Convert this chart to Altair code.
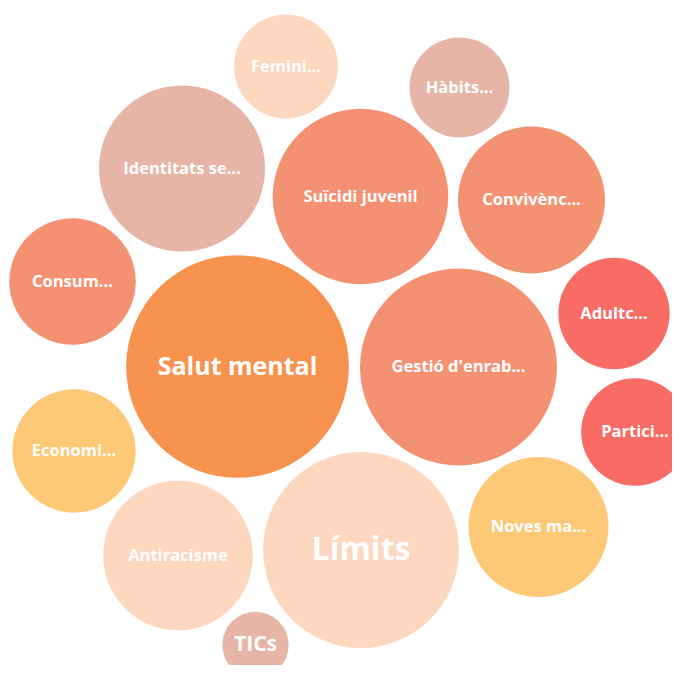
import altair as alt
import pandas as pd

# Bubble labels (as shown, truncated like the original)
labels = ["Salut mental", "Límits", "Gestió d'enrab...", "Suïcidi juvenil",
          "Identitats se...", "Antiracisme", "Convivènc...", "Noves ma...",
          "Consum...", "Economi...", "Adultc...", "Partici...", "Femini...",
          "Hàbits...", "TICs"]
# Relative weight of each topic (bubble area)
values = [124, 96, 97, 77, 69, 56, 54, 49, 40, 38, 31, 29, 27, 25, 11]
# Colour group of each topic
groups = ["G1", "G3", "G2", "G2", "G4", "G3", "G2", "G6",
          "G2", "G6", "G5", "G5", "G3", "G4", "G4"]
# Packed-layout coordinates of each bubble
layout_x = [237.5, 361, 458.5, 360.5, 182, 178, 531.5, 538.5,
            72.5, 74, 614, 635, 286, 459.5, 255.5]
layout_y = [366.5, 550, 367, 196.5, 168.5, 555.5, 200, 527,
            281.5, 451, 313.5, 432, 66.5, 87.5, 645]

group_names = ["G1", "G2", "G3", "G4", "G5", "G6"]
group_colors = ["#F7924F", "#F59173", "#FDD7BE", "#E7B5A5", "#F96C65", "#FEC977"]

label_font = {"Salut mental": 25, "Límits": 32, "TICs": 21}

df = pd.DataFrame({
    "label": labels,
    "value": values,
    "group": groups,
    "x": layout_x,
    "y": layout_y,
})
df["fs"] = [label_font.get(l, 16.5) for l in labels]

W, H = 664, 657
xs = alt.Scale(domain=[8, 8 + W], range=[0, W], nice=False, zero=False)
ys = alt.Scale(domain=[8, 8 + H], range=[0, H], nice=False, zero=False)

base = alt.Chart(df)

bubbles = base.mark_circle(opacity=1).encode(
    x=alt.X("x:Q", scale=xs, axis=None),
    y=alt.Y("y:Q", scale=ys, axis=None),
    size=alt.Size("value:Q", scale=alt.Scale(domain=[0, 124], range=[0, 49600], zero=True), legend=None),
    color=alt.Color("group:N", scale=alt.Scale(domain=group_names, range=group_colors), legend=None),
)

texts = base.mark_text(font="Open Sans", fontWeight="bold", color="white",
                       align="center", baseline="middle").encode(
    x=alt.X("x:Q", scale=xs, axis=None),
    y=alt.Y("y:Q", scale=ys, axis=None),
    text="label:N",
    size=alt.Size("fs:Q", scale=None, legend=None),
)

chart = (bubbles + texts).properties(
    width=W, height=H, padding=0, autosize=alt.AutoSizeParams(type="none")
).configure_view(stroke=None).resolve_scale(size="independent")

chart.save("out.html", embed_options={"renderer": "svg", "actions": False})
